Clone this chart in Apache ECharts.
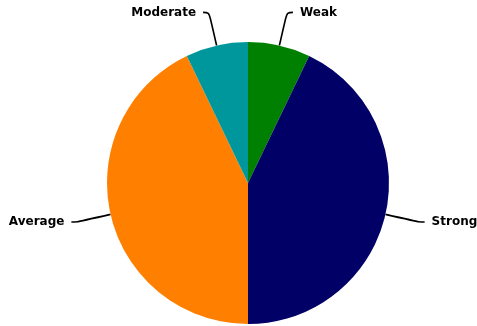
<!DOCTYPE html>
<html>
<head>
<meta charset="utf-8">
<style>
  html, body { margin: 0; padding: 0; background: #ffffff; }
  #chart { width: 477px; height: 326px; }
</style>
<script src="https://cdn.jsdelivr.net/npm/echarts@6/dist/echarts.min.js"></script>
</head>
<body>
<div id="chart"></div>
<script>
// Category names and counts, listed clockwise from 12 o'clock
const categories = ['Weak', 'Strong', 'Average', 'Moderate'];
const values = [1, 6, 6, 1];
const colors = ['#008000', '#000066', '#ff8000', '#00979c'];

const chart = echarts.init(document.getElementById('chart'), null, { renderer: 'canvas' });

const data = categories.map((name, i) => ({
  name: name,
  value: values[i],
  itemStyle: { color: colors[i] }
}));

chart.setOption({
  animation: false,
  backgroundColor: '#ffffff',
  series: [{
    type: 'pie',
    center: [248, 183],
    radius: 141,
    startAngle: 90,
    clockwise: true,
    avoidLabelOverlap: false,
    data: data,
    itemStyle: { borderWidth: 0 },
    label: {
      show: true,
      position: 'outside',
      formatter: '{b}',
      color: '#000000',
      fontFamily: 'DejaVu Sans',
      fontWeight: 'bold',
      fontSize: 12,
      distanceToLabelLine: 7
    },
    labelLine: {
      show: true,
      length: 34,
      length2: 6,
      smooth: 0.35,
      lineStyle: { color: '#000000', width: 1.6 }
    }
  }]
});
</script>
</body>
</html>
